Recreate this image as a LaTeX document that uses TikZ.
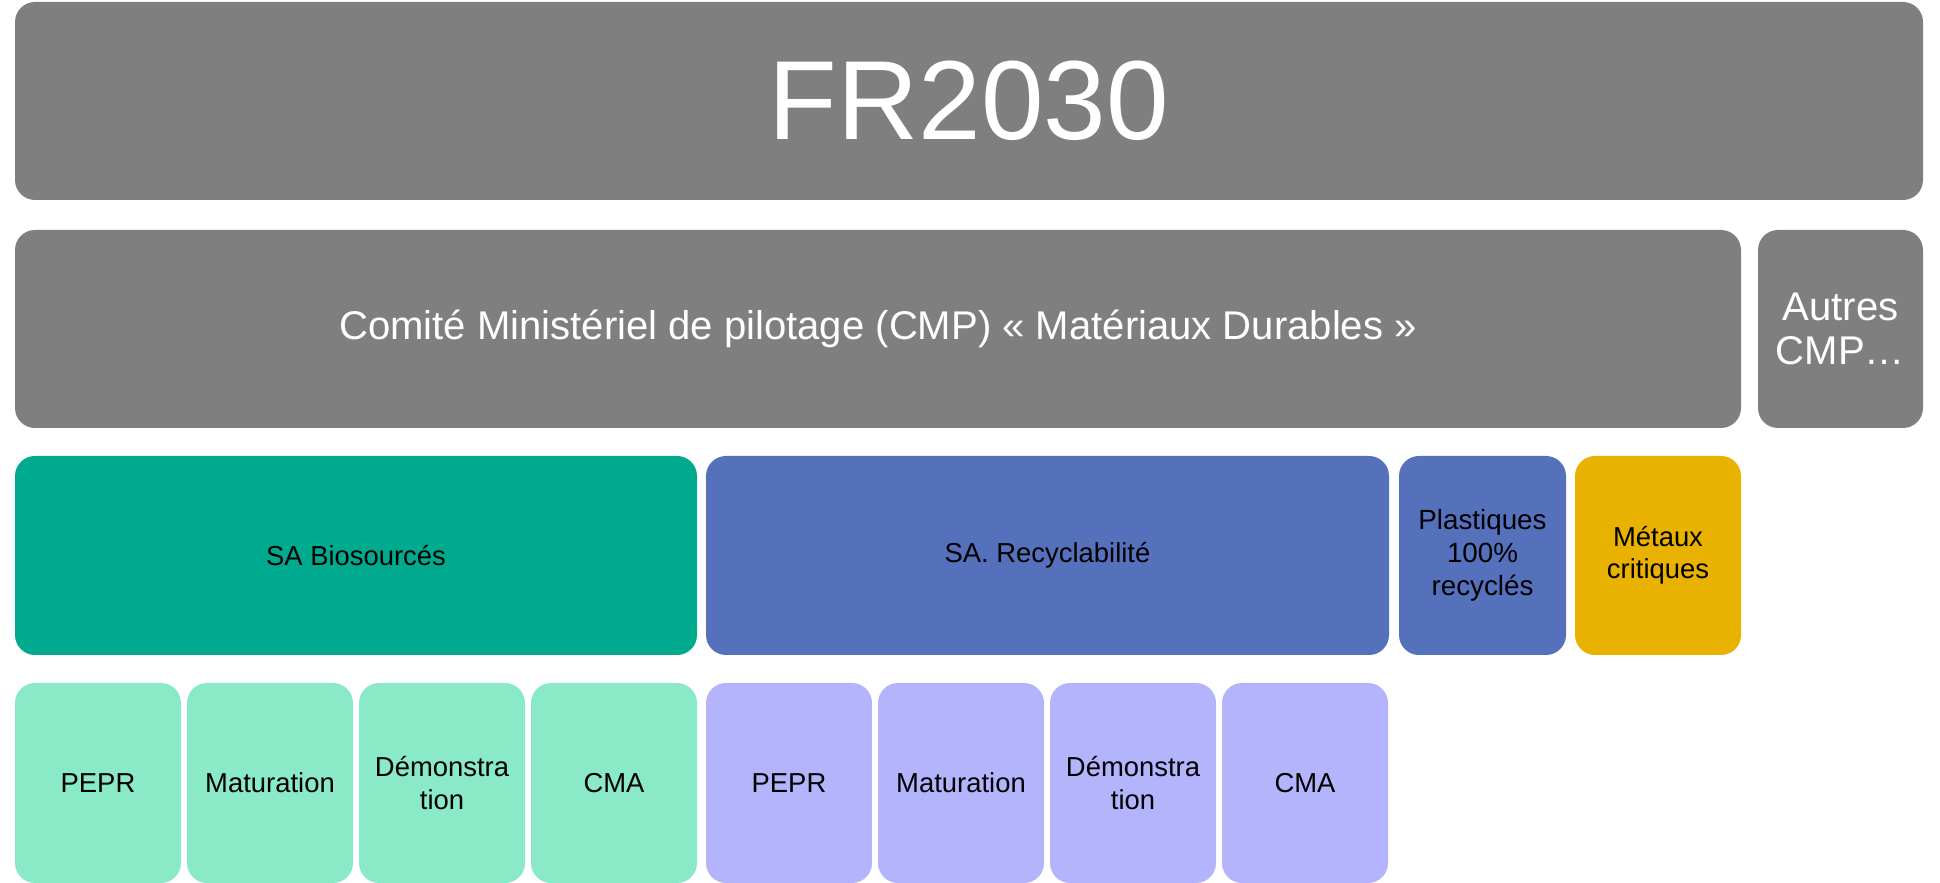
\documentclass[tikz,border=0pt]{standalone}
\usepackage{fontspec}
\setmainfont{Liberation Sans}
\usepackage{tikz}
\usepackage{xcolor}
\definecolor{mygrey}{RGB}{127,127,127}
\definecolor{mygreen}{RGB}{0,170,142}
\definecolor{mylightgreen}{RGB}{138,233,198}
\definecolor{myblue}{RGB}{86,113,188}
\definecolor{mylightblue}{RGB}{180,180,252}
\definecolor{mygold}{RGB}{234,178,0}

\begin{document}
\begin{tikzpicture}[x=0.1mm,y=-0.1mm,
        box/.style={rounded corners=2mm,inner sep=0pt,align=center,font=\fontsize{7.8}{9.2}\selectfont},
        greybox/.style={box,fill=mygrey,text=white,font=\fontsize{11.4}{12.6}\selectfont}]

        % node from its corners: name, x1, y1, x2, y2, style, text
        \def\blk#1#2#3#4#5#6#7{\node[box,#6,minimum width={(#4-#2)*0.1mm},minimum height={(#5-#3)*0.1mm}] (#1) at ({(#2+#4)/2},{(#3+#5)/2}) {#7};}

        % FRAME
        \useasboundingbox (0,0) rectangle (1940,883);

        % TOP
        \blk{fr}{15}{2}{1923}{200}{greybox,font=\fontsize{32}{32}\selectfont}{FR2030}

        % COMITES
        \blk{cmp}{15}{230}{1741}{428}{greybox}{Comité Ministériel de pilotage (CMP) « Matériaux Durables »}
        \blk{autres}{1758}{230}{1923}{428}{greybox}{Autres\\CMP…}

        % STRATEGIES
        \blk{bio}{15}{456}{697}{655}{fill=mygreen}{SA Biosourcés}
        \blk{recy}{706}{456}{1389}{655}{fill=myblue}{SA. Recyclabilité}
        \blk{plast}{1399}{456}{1566}{655}{fill=myblue,font=\fontsize{7.9}{9.4}\selectfont}{Plastiques\\100\%\\recyclés}
        \blk{metaux}{1575}{456}{1741}{655}{fill=mygold}{Métaux\\critiques}

        % OUTILS
        \blk{biopepr}{15}{683}{181}{883}{fill=mylightgreen}{PEPR}
        \blk{biomat}{187}{683}{353}{883}{fill=mylightgreen}{Maturation}
        \blk{biodemo}{359}{683}{525}{883}{fill=mylightgreen}{Démonstra\\tion}
        \blk{biocma}{531}{683}{697}{883}{fill=mylightgreen}{CMA}
        \blk{recypepr}{706}{683}{872}{883}{fill=mylightblue}{PEPR}
        \blk{recymat}{878}{683}{1044}{883}{fill=mylightblue}{Maturation}
        \blk{recydemo}{1050}{683}{1216}{883}{fill=mylightblue}{Démonstra\\tion}
        \blk{recycma}{1222}{683}{1388}{883}{fill=mylightblue}{CMA}

\end{tikzpicture}
\end{document}
